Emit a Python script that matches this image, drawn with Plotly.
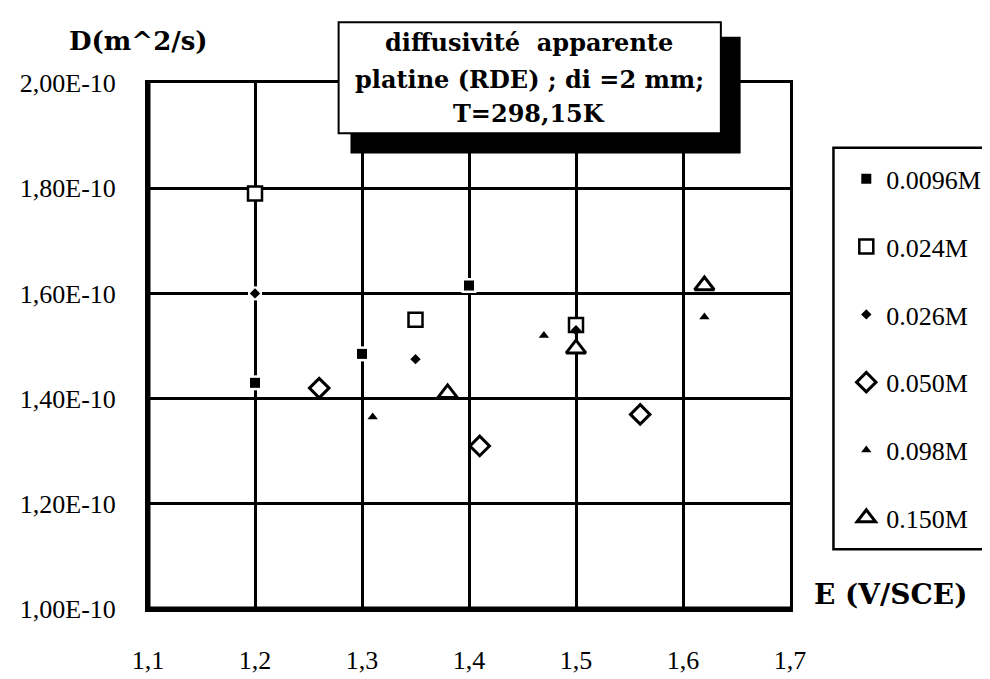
import plotly.graph_objects as go

# ---- data ----
x_ticks = [1.1, 1.2, 1.3, 1.4, 1.5, 1.6, 1.7]
x_ticktext = ["1,1", "1,2", "1,3", "1,4", "1,5", "1,6", "1,7"]
y_ticks = [1.0e-10, 1.2e-10, 1.4e-10, 1.6e-10, 1.8e-10, 2.0e-10]
y_ticktext = ["1,00E-10", "1,20E-10", "1,40E-10", "1,60E-10", "1,80E-10", "2,00E-10"]

series_names = ["0.0096M", "0.024M", "0.026M", "0.050M", "0.098M", "0.150M"]

x_0096 = [1.20, 1.30, 1.40]
y_0096 = [1.43e-10, 1.485e-10, 1.615e-10]

x_024 = [1.20, 1.35, 1.50]
y_024 = [1.79e-10, 1.55e-10, 1.54e-10]

x_026 = [1.20, 1.35, 1.50]
y_026 = [1.60e-10, 1.475e-10, 1.53e-10]

x_050 = [1.26, 1.41, 1.56]
y_050 = [1.42e-10, 1.31e-10, 1.37e-10]

x_098 = [1.31, 1.47, 1.62]
y_098 = [1.365e-10, 1.52e-10, 1.555e-10]

x_150 = [1.38, 1.50, 1.62]
y_150 = [1.41e-10, 1.495e-10, 1.615e-10]

# ---- layout geometry (pixels) ----
W, H = 990, 679
L, R, T, B = 135, 785, 75, 620


def px(x):
    return (x - L) / (R - L)


def py(y):
    return (B - y) / (B - T)


SERIF = "Liberation Serif, Times New Roman, serif"
BOLDSERIF = "DejaVu Serif"

styles = [
    dict(symbol="square", size=10, color="black", line=dict(color="black", width=0)),
    dict(symbol="square", size=14, color="white", line=dict(color="black", width=2.5)),
    dict(symbol="diamond", size=8, color="black", line=dict(color="black", width=0)),
    dict(symbol="diamond", size=15, color="white", line=dict(color="black", width=3)),
    dict(symbol="triangle-up", size=9, color="black", line=dict(color="black", width=0)),
    dict(symbol="triangle-up", size=17, color="white", line=dict(color="black", width=3)),
]
xs = [x_0096, x_024, x_026, x_050, x_098, x_150]
ys = [y_0096, y_024, y_026, y_050, y_098, y_150]

fig = go.Figure()
# white halos that break the grid lines around the small filled markers
fig.add_trace(go.Scatter(x=x_0096, y=y_0096, mode="markers", showlegend=False, hoverinfo="skip",
                         marker=dict(symbol="square", size=15, color="white"), cliponaxis=False))
fig.add_trace(go.Scatter(x=x_026[:1], y=y_026[:1], mode="markers", showlegend=False, hoverinfo="skip",
                         marker=dict(symbol="square", size=14, color="white"), cliponaxis=False))
for i, (name, xv, yv, st) in enumerate(zip(series_names, xs, ys, styles)):
    fig.add_trace(go.Scatter(
        x=xv, y=yv, mode="markers", name=name, legendgroup=name,
        marker=st, cliponaxis=False,
    ))

shapes = [
    # heavier left and bottom axis lines
    dict(type="line", xref="paper", yref="paper", x0=0, x1=0, y0=0, y1=1,
         line=dict(color="black", width=5)),
    dict(type="line", xref="paper", yref="paper", x0=0, x1=1, y0=0, y1=0,
         line=dict(color="black", width=5)),
    # title box shadow
    dict(type="rect", xref="paper", yref="paper", x0=px(340), x1=px(735), y0=py(148), y1=py(27),
         fillcolor="black", line=dict(width=0), layer="above"),
    # title box
    dict(type="rect", xref="paper", yref="paper", x0=px(328), x1=px(715), y0=py(127), y1=py(12),
         fillcolor="white", line=dict(color="black", width=2), layer="above"),
    # legend box (runs off the right edge)
    dict(type="rect", xref="paper", yref="paper", x0=px(829), x1=px(1010), y0=py(558), y1=py(142),
         fillcolor="white", line=dict(color="black", width=2.5), layer="below"),
]

annotations = [
    dict(text="diffusivité  apparente", x=px(521), y=py(33)),
    dict(text="platine (RDE) ; di =2 mm;", x=px(521), y=py(71)),
    dict(text="T=298,15K", x=px(521), y=py(107)),
]
for a in annotations:
    a.update(xref="paper", yref="paper", showarrow=False, xanchor="center", yanchor="middle",
             font=dict(family=BOLDSERIF, size=24, color="black", weight="bold"))

annotations += [
    dict(text="D(m^2/s)", x=px(125), y=py(32), xref="paper", yref="paper", showarrow=False,
         xanchor="center", yanchor="middle",
         font=dict(family=BOLDSERIF, size=26, color="black", weight="bold")),
    dict(text="E (V/SCE)", x=px(807), y=py(605), xref="paper", yref="paper", showarrow=False,
         xanchor="left", yanchor="middle",
         font=dict(family=BOLDSERIF, size=28, color="black", weight="bold")),
]

fig.update_layout(
    width=W, height=H,
    margin=dict(l=L, r=W - R, t=T, b=H - B, pad=0),
    paper_bgcolor="white", plot_bgcolor="white",
    shapes=shapes, annotations=annotations,
    showlegend=True,
    legend=dict(x=px(842), y=py(150), xanchor="left", yanchor="top",
                bgcolor="rgba(0,0,0,0)", borderwidth=0,
                font=dict(family=SERIF, size=26, color="black"),
                tracegroupgap=31, itemsizing="trace"),
    xaxis=dict(range=[1.1, 1.7], tickvals=x_ticks, ticktext=x_ticktext,
               showgrid=True, gridcolor="black", gridwidth=2.5,
               showline=True, linecolor="black", linewidth=3, mirror=True,
               ticks="inside", ticklen=5, tickwidth=3, tickcolor="black",
               ticklabelstandoff=26, zeroline=False,
               tickfont=dict(family=SERIF, size=26, color="black")),
    yaxis=dict(range=[1.0e-10, 2.0e-10], tickvals=y_ticks, ticktext=y_ticktext,
               showgrid=True, gridcolor="black", gridwidth=2.5,
               showline=True, linecolor="black", linewidth=3, mirror=True,
               ticks="inside", ticklen=5, tickwidth=3, tickcolor="black",
               ticklabelstandoff=24, zeroline=False,
               tickfont=dict(family=SERIF, size=26, color="black")),
)

fig.write_html("out.html")
